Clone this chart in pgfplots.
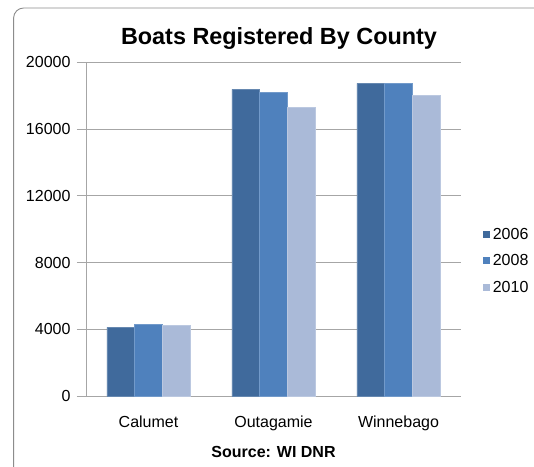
\documentclass[border=0pt]{standalone}
\usepackage{pgfplots}
\pgfplotsset{compat=1.18}
\usepackage{fontspec}
\setmainfont{Liberation Sans}
\definecolor{cA}{HTML}{406A9C}
\definecolor{cB}{HTML}{4F81BD}
\definecolor{cC}{HTML}{AABAD8}
\definecolor{gridc}{HTML}{A6A6A6}
\begin{document}
\begin{tikzpicture}
\useasboundingbox (0pt,0pt) rectangle (534pt,466pt);
\fill[white] (0pt,0pt) rectangle (534pt,466pt);
\draw[gray!90, line width=0.9pt, rounded corners=10pt] (13.6pt,-20pt) rectangle (560pt,458pt);
\node[anchor=base, font=\bfseries\fontsize{23.4}{28}\selectfont] at (279pt,421.7pt) {Boats Registered By County};
\begin{axis}[
  at={(86pt,70pt)}, anchor=south west,
  width=375pt, height=333.7pt, scale only axis,
  ybar=0pt, bar width=27.7pt,
  xmin=-0.5, xmax=2.5, ymin=0, ymax=20000,
  xtick={0,1,2}, xticklabels={Calumet,Outagamie,Winnebago},
  ytick={0,4000,8000,12000,16000,20000},
  scaled y ticks=false,
  /pgf/number format/1000 sep={},
  /pgf/number format/assume math mode=true,
  ymajorgrids, grid style={gridc, line width=0.8pt},
  axis line style={gridc, line width=0.8pt},
  axis x line*=bottom, axis y line*=left,
  tick align=outside, major tick length=9pt,
  ytick style={gridc, line width=0.8pt},
  xtick style={draw=none},
  tick label style={font=\fontsize{16}{19}\selectfont, text=black},
  yticklabel style={xshift=-3pt},
  xticklabel style={yshift=-7.5pt},
  xlabel={\bfseries Source: WI DNR},
  xlabel style={font=\fontsize{16}{19}\selectfont, yshift=-9pt},
  legend style={draw=none, at={(axis description cs:1.059,0.405)}, anchor=west,
    font=\fontsize{16}{19}\selectfont, inner sep=0pt, row sep=9pt,
    nodes={inner sep=2.5pt}},
  legend cell align=left,
  legend image code/.code={\fill[#1,draw=none] (0pt,-3.5pt) rectangle (7pt,3.5pt);},
]
\addplot[fill=cA, draw=cA!80!white, line width=0.4pt] coordinates {(0,4120) (1,18380) (2,18740)};
\addplot[fill=cB, draw=cB!80!white, line width=0.4pt] coordinates {(0,4315) (1,18200) (2,18740)};
\addplot[fill=cC, draw=cC!80!white, line width=0.4pt] coordinates {(0,4240) (1,17300) (2,18020)};
\legend{2006,2008,2010}
\end{axis}
\end{tikzpicture}
\end{document}
